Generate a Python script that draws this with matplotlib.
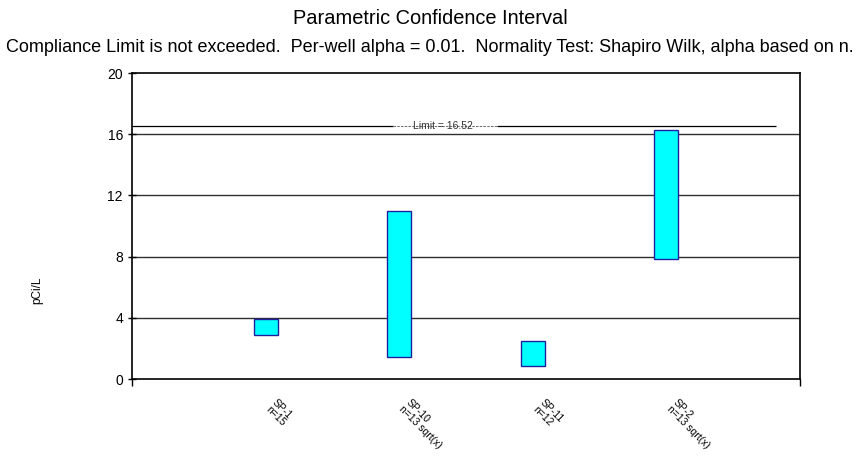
import matplotlib
matplotlib.use("Agg")
import matplotlib.pyplot as plt
from matplotlib.transforms import ScaledTranslation

plt.rcParams['font.family'] = ['Liberation Sans', 'DejaVu Sans']

# data
wells = ['SP-1', 'SP-10', 'SP-11', 'SP-2']
notes = ['n=15', 'n=13 sqrt(x)', 'n=12', 'n=13 sqrt(x)']
lower = [2.9, 1.45, 0.85, 7.85]
upper = [3.9, 11.0, 2.5, 16.3]
limit = 16.52
yticks = [0, 4, 8, 12, 16, 20]

fig = plt.figure(figsize=(8.6, 4.75), dpi=100)
ax = fig.add_axes([0.1535, 0.2021, 0.7767, 0.6442])

pos = list(range(1, len(wells) + 1))
heights = [u - l for u, l in zip(upper, lower)]
ax.bar(pos, heights, bottom=lower, width=0.18, color='#00FFFF',
       edgecolor='#1f1fa0', linewidth=1.0, zorder=3)

# gridlines
for y in yticks[1:-1]:
    ax.axhline(y, color='#303030', linewidth=1.0, zorder=1)

# compliance limit line, broken by a dashed stretch under the label
ax.hlines(limit, 0, 4.82, color='black', linewidth=0.9, zorder=2)
ax.hlines(limit, 1.95, 2.73, color='white', linewidth=2, zorder=2.5)
ax.hlines(limit, 1.95, 2.73, color='#555555', linewidth=0.6,
          linestyles=(0, (3, 1.5)), zorder=2.6)
ax.text(2.33, limit, f'Limit = {limit}', fontsize=7.5, ha='center',
        va='center', color='#333333', zorder=4)

ax.set_xlim(0, 5)
ax.set_ylim(0, 20)
ax.set_yticks(yticks)
ax.tick_params(axis='y', direction='inout', length=6, labelsize=10, width=1)
ax.set_xticks(pos)
ax.set_xticklabels([f'{w}\n{n}' for w, n in zip(wells, notes)],
                   rotation=-45, ha='left', va='top', rotation_mode='anchor',
                   fontsize=7.5, linespacing=0.95)
ax.tick_params(axis='x', length=0, pad=13)
shift = ScaledTranslation(0.12, 0, fig.dpi_scale_trans)
for lab in ax.get_xticklabels():
    lab.set_transform(lab.get_transform() + shift)
ax.set_xticks([0, 5], minor=True)
ax.tick_params(axis='x', which='minor', direction='out', length=5, width=1)
for s in ax.spines.values():
    s.set_linewidth(1.2)

fig.text(0.5, 0.96, 'Parametric Confidence Interval', ha='center', va='center', fontsize=14.4)
fig.text(0.5, 0.9, 'Compliance Limit is not exceeded.  Per-well alpha = 0.01.  '
         'Normality Test: Shapiro Wilk, alpha based on n.', ha='center', va='center', fontsize=13)
fig.text(37 / 860, 1 - 290 / 475, 'pCi/L', rotation=90, ha='center', va='center', fontsize=8.5)

fig.savefig('out.png', dpi=100)
